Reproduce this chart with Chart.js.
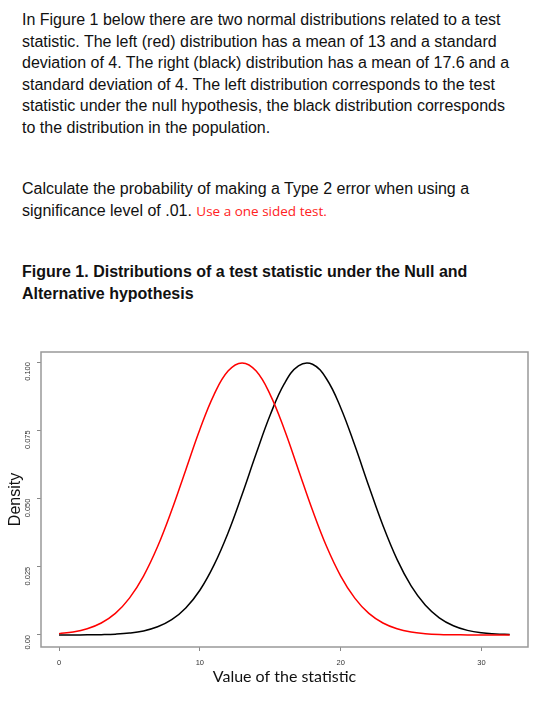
<!DOCTYPE html>
<html>
<head>
<meta charset="utf-8">
<script src="https://cdn.jsdelivr.net/npm/chart.js@4.4.0/dist/chart.umd.min.js"></script>
<style>
  body { margin: 0; background: #fff; width: 547px; height: 706px; position: relative; overflow: hidden; }
  .txt { position: absolute; left: 22px; width: 520px; font-family: "Liberation Sans", Arial, sans-serif; font-size: 16px; line-height: 21.5px; color: #111; }
  .red { color: #ff2222; font-family: "Open Sans", sans-serif; font-size: 13.5px; }
  #wrap { position: absolute; left: 0; top: 330px; width: 547px; height: 356px; }
</style>
</head>
<body>
<div class="txt" style="top:9px; width:496px">In Figure 1 below there are two normal distributions related to a test statistic. The left (red) distribution has a mean of 13 and a standard deviation of 4. The right (black) distribution has a mean of 17.6 and a standard deviation of 4. The left distribution corresponds to the test statistic under the null hypothesis, the black distribution corresponds to the distribution in the population.</div>
<div class="txt" style="top:178px">Calculate the probability of making a Type 2 error when using a significance level of .01. <span class="red">Use a one sided test.</span></div>
<div class="txt" style="top:261px; font-weight:bold">Figure 1. Distributions of a test statistic under the Null and Alternative hypothesis</div>
<div id="wrap"><canvas id="chart"></canvas></div>
<script>
// x values of the statistic
const xValues = [0, 1, 2, 3, 4, 5, 6, 7, 8, 9, 10, 11, 12, 13, 14, 15, 16, 17, 18, 19, 20, 21, 22, 23, 24, 25, 26, 27, 28, 29, 30, 31, 32];
// null distribution (red)
const nullDensity = [0.0005, 0.0011, 0.0023, 0.0044, 0.0079, 0.0135, 0.0216, 0.0324, 0.0457, 0.0605, 0.0753, 0.0880, 0.0967, 0.0997, 0.0967, 0.0880, 0.0753, 0.0605, 0.0457, 0.0324, 0.0216, 0.0135, 0.0079, 0.0044, 0.0023, 0.0011, 0.0005, 0.0002, 0.0001, 0.00003, 0.00001, 0.000004, 0.000001];
// population distribution (black)
const popDensity = [0.000006, 0.00002, 0.00005, 0.00013, 0.0003, 0.0007, 0.0015, 0.0030, 0.0056, 0.0099, 0.0164, 0.0256, 0.0374, 0.0515, 0.0665, 0.0807, 0.0921, 0.0986, 0.0992, 0.0938, 0.0833, 0.0695, 0.0545, 0.0401, 0.0277, 0.0180, 0.0110, 0.0063, 0.0034, 0.0017, 0.0008, 0.0004, 0.00015];
const xTicks = [0, 10, 20, 30];
const yTicks = [0, 0.025, 0.05, 0.075, 0.1];
const yTickLabels = ["0.00", "0.025", "0.050", "0.075", "0.100"];

const toPoints = ys => xValues.map((x, i) => ({ x: x, y: ys[i] }));

// R style box around the plot region
const boxPlugin = {
  id: "box",
  afterDraw(chart) {
    const a = chart.chartArea, c = chart.ctx;
    c.save();
    c.strokeStyle = "#999";
    c.lineWidth = 1.5;
    c.strokeRect(a.left, a.top, a.right - a.left, a.bottom - a.top);
    c.restore();
  }
};

new Chart(document.getElementById("chart"), {
  type: "line",
  data: {
    datasets: [
      { data: toPoints(nullDensity), borderColor: "#ff0000", borderWidth: 1.5, pointRadius: 0, tension: 0.4, fill: false },
      { data: toPoints(popDensity), borderColor: "#000", borderWidth: 1.5, pointRadius: 0, tension: 0.4, fill: false }
    ]
  },
  options: {
    responsive: true,
    maintainAspectRatio: false,
    animation: false,
    layout: { padding: { top: 22, right: 19, left: 6, bottom: 0 } },
    plugins: { legend: { display: false }, tooltip: { enabled: false } },
    scales: {
      x: {
        type: "linear",
        min: -1.28,
        max: 33.3,
        afterBuildTicks: s => { s.ticks = xTicks.map(v => ({ value: v })); },
        afterFit: s => { s.height = 39; },
        grid: { drawOnChartArea: false, drawTicks: true, tickLength: 4, color: "#888" },
        border: { display: false },
        ticks: { font: { size: 7.5, family: "Liberation Sans" }, color: "#333", maxRotation: 0, padding: 7 },
        title: { display: true, text: "Value of the statistic", font: { size: 16, family: "Lato" }, color: "#111", padding: 0 }
      },
      y: {
        min: -0.0044,
        max: 0.1037,
        afterBuildTicks: s => { s.ticks = yTicks.map(v => ({ value: v })); },
        afterFit: s => { s.width = 35; },
        grid: { drawOnChartArea: false, drawTicks: true, tickLength: 4, color: "#888" },
        border: { display: false },
        ticks: {
          font: { size: 7.5, family: "Liberation Sans" }, color: "#333", minRotation: 90, maxRotation: 90, padding: 9,
          callback: (v, i) => yTickLabels[i]
        },
        title: { display: true, text: "Density", font: { size: 16, family: "Liberation Sans" }, color: "#111", padding: 0 }
      }
    }
  },
  plugins: [boxPlugin]
});
</script>
</body>
</html>
